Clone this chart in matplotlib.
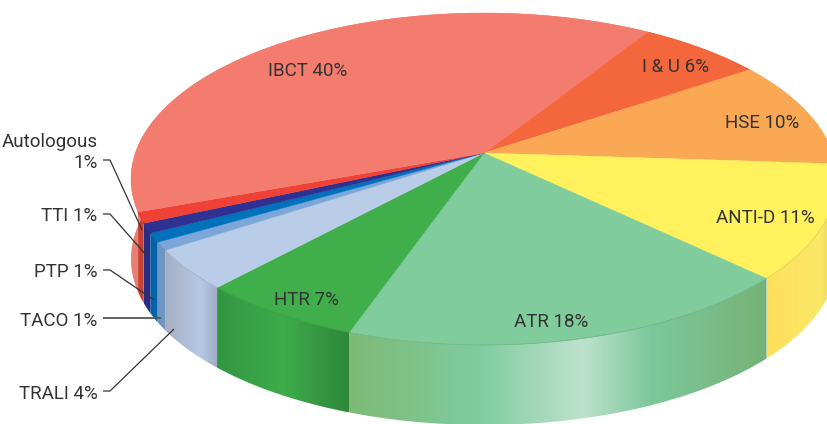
import numpy as np
import matplotlib
matplotlib.use("Agg")
import matplotlib.pyplot as plt
from matplotlib.patches import Polygon

categories = ["I & U", "HSE", "ANTI-D", "ATR", "HTR", "TRALI", "TACO", "PTP", "TTI", "Autologous", "IBCT"]
percent_labels = [6, 10, 11, 18, 7, 4, 1, 1, 1, 1, 40]
# slice sizes as actually drawn (read from the slice boundaries)
drawn_shares = [6.6, 10.5, 11.1, 18.2, 6.5, 3.9, 0.78, 0.87, 0.95, 1.05, 39.55]
top_colors = ["#F4663B", "#FBA855", "#FFF25C", "#80CC9C", "#3FAE4B", "#B9CCE8",
              "#7CA6DA", "#0072BC", "#2E3192", "#EF4136", "#F47C6E"]
side_stops = [
    [(0, "#D9502C"), (1, "#D9502C")],
    [(0, "#E8964A"), (1, "#E8964A")],
    [(0, "#FFDF5C"), (0.75, "#F9E866"), (1, "#E6CF55")],
    [(0, "#7DBA76"), (0.31, "#80CC9F"), (0.56, "#BEE2CC"), (0.72, "#7DC89B"), (1, "#76B276")],
    [(0, "#329641"), (0.5, "#3EAC4B"), (1, "#2D8738")],
    [(0, "#A5AFC3"), (0.7, "#B6C8E4"), (1, "#A0ACC8")],
    [(0, "#6E96C3"), (1, "#6E96C3")],
    [(0, "#0064AA"), (1, "#0064AA")],
    [(0, "#282D82"), (1, "#282D82")],
    [(0, "#C84132"), (1, "#C84132")],
    [(0, "#E97F73"), (1, "#E97F73")],
]
inside_label_xy = {"I & U": (676, 67), "HSE": (762, 123), "ANTI-D": (765, 218),
                   "ATR": (551, 322), "HTR": (307, 300), "IBCT": (308, 71)}
outside_label_y = {"TTI": 216, "PTP": 272, "TACO": 321, "TRALI": 394}
leader_paths = {
    "Autologous": [(103, 160), (110, 160), (142, 230)],
    "TTI": [(103, 214), (110, 214), (147, 256)],
    "PTP": [(103, 270), (110, 270), (154, 300)],
    "TACO": [(103, 318), (161, 318)],
    "TRALI": [(103, 391), (110, 391), (174, 329)],
}

W, H = 827, 424
ELL_X, ELL_Y, ELL_A, ELL_B = 484, 179, 353, 166
TILT = 26 / 166
DEPTH = 80
START_DEG = 57.8

plt.rcParams["font.family"] = ["Roboto", "DejaVu Sans"]
fig = plt.figure(figsize=(W / 100, H / 100), dpi=100)
ax = fig.add_axes([0, 0, 1, 1])


def project(theta):
    """Unit circle -> pixel ellipse in perspective (pie centre sits above ellipse centre)."""
    u, v = np.cos(theta), np.sin(theta)
    d = 1 + TILT * v
    return ELL_X + ELL_A * u * np.sqrt(1 - TILT ** 2) / d, ELL_Y - ELL_B * (v + TILT) / d


centre = (ELL_X, ELL_Y - ELL_B * TILT)
shares = np.array(drawn_shares) / np.sum(drawn_shares)
edges = np.radians(START_DEG) - 2 * np.pi * np.concatenate([[0], np.cumsum(shares)])

# sides first: the top faces hide whatever lies behind them
for i, stops in enumerate(side_stops):
    th = np.linspace(edges[i], edges[i + 1], 300)
    x, y = project(th)
    poly = np.column_stack([np.r_[x, x[::-1]], np.r_[y, y[::-1] + DEPTH]])
    patch = Polygon(poly, closed=True, facecolor="none", edgecolor="none")
    ax.add_patch(patch)
    x0, x1 = x.min(), x.max()
    pos = np.linspace(0, 1, 256)
    rgb = np.array([matplotlib.colors.to_rgb(c) for _, c in stops])
    fr = [s for s, _ in stops]
    grad = np.stack([np.interp(pos, fr, rgb[:, k]) for k in range(3)], axis=-1)[None, :, :]
    im = ax.imshow(grad, extent=(x0, x1, y.max() + DEPTH, y.min()), aspect="auto",
                   interpolation="bilinear", zorder=2)
    im.set_clip_path(patch)

# top faces
for i, col in enumerate(top_colors):
    th = np.linspace(edges[i], edges[i + 1], 300)
    x, y = project(th)
    poly = np.column_stack([np.r_[centre[0], x], np.r_[centre[1], y]])
    ax.add_patch(Polygon(poly, closed=True, facecolor=col, edgecolor=col, linewidth=0.3, zorder=3))
    dark = tuple(0.85 * c for c in matplotlib.colors.to_rgb(col))
    front = y > ELL_Y
    if front.any() and col != top_colors[-1]:
        ax.plot(x[front], y[front], color=dark, lw=0.5, zorder=4)

TXT = "#333333"
FS = 13.5
for name, pct in zip(categories, percent_labels):
    if name in inside_label_xy:
        px, py = inside_label_xy[name]
        ax.text(px, py, f"{name} {pct}%", ha="center", va="center", fontsize=FS, color=TXT, zorder=5)
    elif name in outside_label_y:
        ax.text(97.5, outside_label_y[name], f"{name} {pct}%", ha="right", va="center",
                fontsize=FS, color=TXT, zorder=5)
    else:
        ax.text(97.5, 142, name, ha="right", va="center", fontsize=FS, color=TXT, zorder=5)
        ax.text(97.5, 163, f"{pct}%", ha="right", va="center", fontsize=FS, color=TXT, zorder=5)

for name, path in leader_paths.items():
    p = np.array(path)
    gray = name == "TACO"
    ax.plot(p[:, 0], p[:, 1], color="#555555" if gray else "#333333", lw=1.3 if gray else 0.9,
            zorder=6, solid_capstyle="butt")

ax.set_xlim(0, W)
ax.set_ylim(H, 0)
ax.axis("off")
fig.savefig("out.png", dpi=100)
